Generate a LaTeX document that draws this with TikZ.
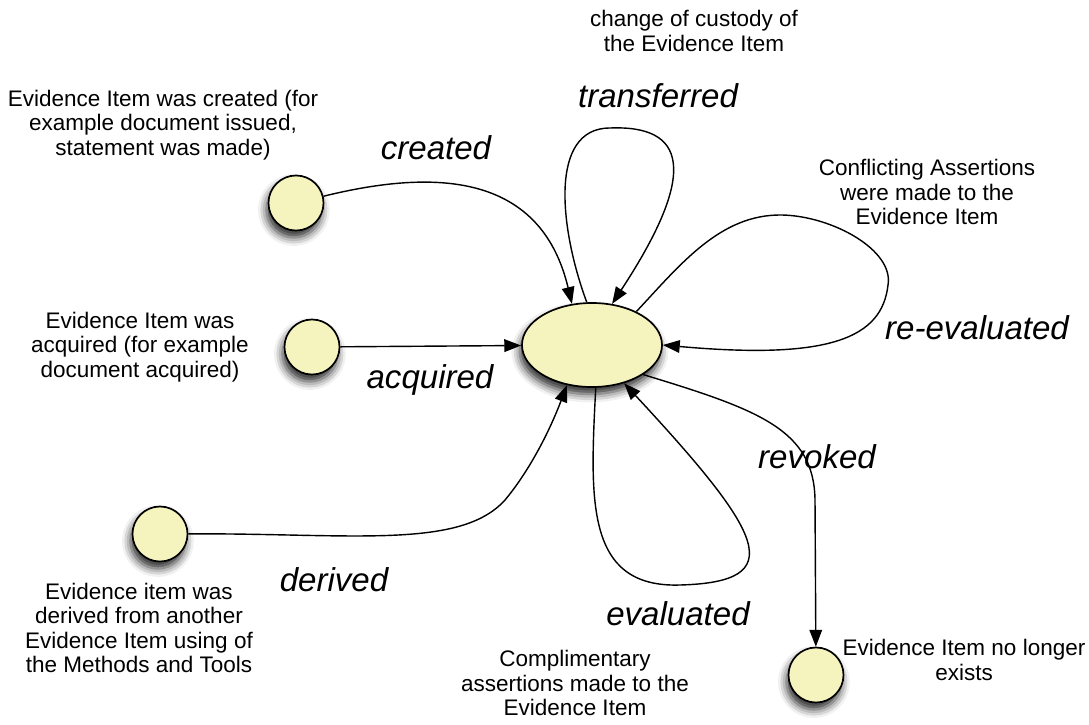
\documentclass[tikz,border=0pt]{standalone}
\usepackage{fontspec}
\setmainfont{Liberation Sans}
\usepackage{xcolor}
\usetikzlibrary{shapes.geometric, arrows.meta, positioning, shadows.blur}
\definecolor{itemfill}{RGB}{246,244,190}
\tikzset{
    place/.style={
        circle,
        line width=1.2pt,
        draw=black,
        fill=itemfill,
        minimum size=1.375cm,
        inner sep=0pt,
        blur shadow={shadow xshift=-1.5pt, shadow yshift=-5pt, shadow blur radius=6pt, shadow opacity=85},
    },
    evstate/.style={
        ellipse,
        line width=1.2pt,
        draw=black,
        fill=itemfill,
        minimum width=3.5cm,
        minimum height=2.1cm,
        inner sep=0pt,
        blur shadow={shadow xshift=-1.5pt, shadow yshift=-5pt, shadow blur radius=6pt, shadow opacity=85},
    },
    note/.style={
        align=center,
        inner sep=0pt,
        font=\fontsize{16}{17.5}\selectfont,
    },
    act/.style={
        inner sep=0pt,
        font=\fontsize{23.5}{26}\selectfont\itshape,
    },
}

\begin{document}
\begin{tikzpicture}[x=0.025cm, y=-0.025cm, >={Triangle[length=12pt,width=9pt]}, line width=1pt]
    \useasboundingbox (0,0) rectangle (1089,724);

    % states
    \node [evstate] (E) at (592,345) {};
    \node [place] (created) at (296,203) {};
    \node [place] (acquired) at (312,347) {};
    \node [place] (derived) at (160,534) {};
    \node [place] (gone) at (816,675) {};

    % notes
    \node [note] (n-custody) at (694,31) {change of custody of\\the Evidence Item};
    \node [note] (n-created) at (163,125) {Evidence Item was created (for\\example document issued,\\statement was made)};
    \node [note] (n-conflict) at (927,192) {Conflicting Assertions\\were made to the\\Evidence Item};
    \node [note] (n-acquired) at (140,347) {Evidence Item was\\acquired (for example\\document acquired)};
    \node [note] (n-derived) at (139,628) {Evidence item was\\derived from another\\Evidence Item using of\\the Methods and Tools};
    \node [note] (n-compl) at (575,683) {Complimentary\\assertions made to the\\Evidence Item};
    \node [note] (n-gone) at (964,660) {Evidence Item no longer\\exists};

    % transition names
    \node [act] (l-transferred) at (658,96) {transferred};
    \node [act] (l-created) at (436,148) {created};
    \node [act] (l-reevaluated) at (977,328) {re-evaluated};
    \node [act] (l-acquired) at (430,380) {acquired};
    \node [act] (l-revoked) at (817,457) {revoked};
    \node [act] (l-derived) at (334,580) {derived};
    \node [act] (l-evaluated) at (678,614) {evaluated};

    % transitions
    \draw[->] (created) .. controls (430,170) and (540,170) .. (E.116);
    \draw[->] (acquired) -- (E);
    \draw[->] (derived) .. controls (350,533) and (460,550) .. (505,500)
        .. controls (530,470) and (550,430) .. (E.-122);
    \draw[->] (E.97) .. controls (560,230) and (548,128) .. (610,128)
        .. controls (685,125) and (700,170) .. (E.64);
    \draw[->] (E.37) .. controls (680,265) and (720,214) .. (782,215)
        .. controls (832,216) and (894,250) .. (888,285)
        .. controls (882,338) and (830,360) .. (E.east);
    \draw[->] (E.-85) .. controls (590,500) and (585,588) .. (680,585)
        .. controls (790,582) and (765,535) .. (E.-50);
    \draw[->] (E.-30) .. controls (760,410) and (814,430) .. (815,500) -- (gone);
\end{tikzpicture}
\end{document}
